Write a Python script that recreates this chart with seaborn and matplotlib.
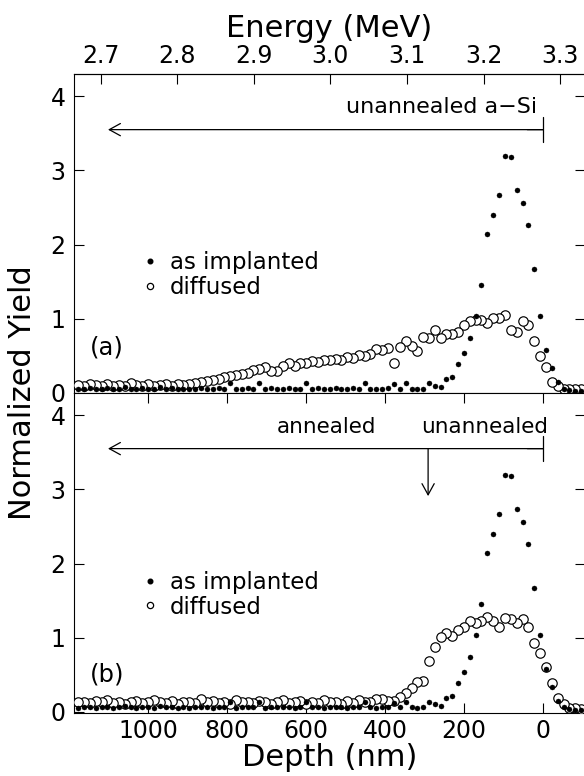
import matplotlib
matplotlib.use("Agg")
import matplotlib.pyplot as plt
import seaborn as sns
import pandas as pd
from matplotlib.lines import Line2D

# ---------------- data ----------------
depth = [-96, -81, -66, -52, -37, -22, -7, 8, 23, 37, 52, 67, 82, 96, 111, 126, 141,
         156, 170, 185, 200, 215, 230, 245, 259, 274, 289, 304, 318, 333, 348, 363,
         378, 392, 407, 422, 437, 451, 466, 481, 496, 511, 525, 540, 555, 570, 585,
         599, 614, 629, 644, 659, 673, 688, 703, 718, 733, 747, 762, 777, 792, 807,
         821, 836, 851, 866, 881, 895, 910, 925, 940, 955, 969, 984, 999, 1014, 1029,
         1043, 1058, 1073, 1088, 1103, 1117, 1132, 1147, 1162, 1177]

as_implanted = [0.03, 0.03, 0.04, 0.06, 0.15, 0.34, 0.58, 1.04,
                1.67, 2.27, 2.56, 2.73, 3.18, 3.19, 2.67, 2.40, 2.14,
                1.46, 1.04, 0.74, 0.54, 0.39, 0.22, 0.19, 0.08,
                0.10, 0.13, 0.06, 0.05, 0.06, 0.13, 0.06, 0.12, 0.07, 0.06,
                0.05, 0.06, 0.13, 0.06, 0.07, 0.05, 0.06, 0.07, 0.06, 0.05,
                0.07, 0.06, 0.13, 0.06, 0.05, 0.07, 0.06, 0.06, 0.07, 0.05,
                0.13, 0.06, 0.07, 0.06, 0.05, 0.13, 0.06, 0.07, 0.05, 0.06,
                0.07, 0.06, 0.05,
                0.06, 0.05, 0.07, 0.06, 0.08, 0.05, 0.06, 0.07, 0.05, 0.06,
                0.08, 0.06, 0.05, 0.07, 0.06, 0.05, 0.07, 0.06, 0.05]

diffused_a = [0.05, 0.05, 0.06, 0.05, 0.09, 0.15, 0.35, 0.50,
              0.70, 0.91, 0.97, 0.82, 0.85, 1.05, 1.01, 1.01, 0.94, 0.98,
              0.99, 0.97, 0.92, 0.82, 0.79, 0.80, 0.74, 0.85, 0.74, 0.76,
              0.57, 0.63, 0.70, 0.62, 0.41, 0.61, 0.58,
              0.59, 0.53, 0.50, 0.51, 0.47, 0.48, 0.45, 0.46, 0.44, 0.45,
              0.42, 0.43, 0.41, 0.40, 0.37, 0.41, 0.36, 0.30, 0.29, 0.35,
              0.32, 0.31, 0.27, 0.26, 0.24, 0.23, 0.21, 0.19, 0.18, 0.16,
              0.15, 0.13, 0.12,
              0.11, 0.12, 0.10, 0.12, 0.11, 0.09, 0.12, 0.10, 0.11, 0.13,
              0.10, 0.11, 0.09, 0.12, 0.10, 0.11, 0.12, 0.10, 0.11]

diffused_b = [0.04, 0.05, 0.05, 0.10, 0.19, 0.39, 0.61, 0.79,
              0.93, 1.14, 1.25, 1.20, 1.25, 1.26, 1.14, 1.22, 1.28, 1.22,
              1.20, 1.23, 1.14, 1.10, 1.02, 1.07, 1.01, 0.88, 0.68, 0.41,
              0.40, 0.32, 0.26, 0.20, 0.15, 0.15, 0.17, 0.18, 0.14,
              0.13, 0.16, 0.12, 0.15, 0.11, 0.14, 0.13, 0.16, 0.12, 0.14,
              0.11, 0.15, 0.13, 0.12, 0.16, 0.14, 0.11, 0.13, 0.15, 0.12,
              0.14, 0.13, 0.16, 0.11, 0.14, 0.12, 0.15, 0.13, 0.17, 0.12,
              0.14, 0.13, 0.11, 0.15, 0.12, 0.14, 0.16, 0.13, 0.12, 0.15,
              0.13, 0.11, 0.14, 0.12, 0.16, 0.13, 0.15, 0.12, 0.14, 0.13]

depth_ticks = [1000, 800, 600, 400, 200, 0]
yield_ticks = [0, 1, 2, 3, 4]
energy_ticks = [2.7, 2.8, 2.9, 3.0, 3.1, 3.2, 3.3]
energy_labels = ["2.7", "2.8", "2.9", "3.0", "3.1", "3.2", "3.3"]
series_labels = ["as implanted", "diffused"]

assert len(depth) == len(as_implanted) == len(diffused_a) == len(diffused_b)

E_SURF, K_E = 3.2777, 0.000516
def d2e(d):
    return E_SURF - K_E * d
def e2d(e):
    return (E_SURF - e) / K_E

# ---------------- style ----------------
sns.set_theme(style="ticks")
plt.rcParams["font.family"] = ["DejaVu Sans"]
plt.rcParams.update({"axes.edgecolor": "black", "text.color": "black",
                     "axes.labelcolor": "black", "xtick.color": "black",
                     "ytick.color": "black", "axes.linewidth": 0.8})

W, H = 584, 776
fig = plt.figure(figsize=(W / 100, H / 100), dpi=100)
left_px, right_px = 74, 585
top_px, mid_px, bot_px = 74, 393, 713
ax_a = fig.add_axes([left_px / W, 1 - mid_px / H, (right_px - left_px) / W, (mid_px - top_px) / H])
ax_b = fig.add_axes([left_px / W, 1 - bot_px / H, (right_px - left_px) / W, (bot_px - mid_px) / H])

df = pd.DataFrame({"depth": depth, "as_implanted": as_implanted,
                   "diffused_a": diffused_a, "diffused_b": diffused_b})

for ax, dcol in ((ax_a, "diffused_a"), (ax_b, "diffused_b")):
    sns.scatterplot(data=df, x="depth", y=dcol, ax=ax, marker="o", s=46,
                    color="white", edgecolor="black", linewidth=0.85, zorder=3)
    sns.scatterplot(data=df, x="depth", y="as_implanted", ax=ax, marker="o", s=13,
                    color="black", edgecolor="black", linewidth=0.3, zorder=4)
    ax.set_xlim(1187, -106)
    ax.set_xticks(depth_ticks)
    ax.set_yticks(yield_ticks)
    ax.set_xlabel("")
    ax.set_ylabel("")
    ax.tick_params(axis="both", direction="in", length=7, width=0.8, labelsize=17)
    ax.tick_params(axis="y", right=True, pad=6)
    handles = [Line2D([], [], ls="", marker="o", ms=3.3, mfc="black", mec="black"),
               Line2D([], [], ls="", marker="o", ms=4.5, mfc="white", mec="black", mew=0.9)]
    ax.legend(handles, series_labels, loc="center left", bbox_to_anchor=(0.138, 0.37),
              frameon=False, fontsize=16.5, handlelength=0.5, handletextpad=0.6,
              labelspacing=0.08, borderpad=0, borderaxespad=0)

ax_a.set_ylim(0, 4.3)
ax_b.set_ylim(-0.015, 4.3)
ax_a.tick_params(axis="x", bottom=False, labelbottom=False)
ax_b.tick_params(axis="x", top=True, bottom=True, labelbottom=True, pad=4)

# energy scale on top
sec = ax_a.secondary_xaxis("top", functions=(d2e, e2d))
sec.set_xticks(energy_ticks)
sec.set_xticklabels(energy_labels)
sec.tick_params(axis="x", direction="in", length=7, width=0.8, labelsize=17, pad=4)
sec.set_xlabel("Energy (MeV)", fontsize=22, labelpad=5)

ax_b.set_xlabel("Depth (nm)", fontsize=22, labelpad=0)
fig.text(23 / W, 1 - mid_px / H, "Normalized Yield", rotation=90, fontsize=22,
         ha="center", va="center")

# annotations
ax_a.text(1104, 0.62, "(a)", fontsize=17.5, ha="center", va="center")
ax_b.text(1104, 0.50, "(b)", fontsize=17.5, ha="center", va="center")

for ax in (ax_a, ax_b):
    ax.annotate("", xy=(0, 3.55), xytext=(1101, 3.55),
                arrowprops=dict(arrowstyle="<-,head_length=0.4,head_width=0.22",
                                mutation_scale=20, lw=0.9, color="black",
                                shrinkA=0, shrinkB=0))
    ax.annotate("", xy=(0, 3.55), xytext=(40, 3.55),
                arrowprops=dict(arrowstyle="-[,widthB=0.45,lengthB=0",
                                mutation_scale=20, lw=0.9, color="black",
                                shrinkA=0, shrinkB=0))

ax_a.text(15, 3.85, "unannealed a\u2212Si", fontsize=16, ha="right", va="center")
ax_b.text(549, 3.84, "annealed", fontsize=15.5, ha="center", va="center")
ax_b.text(147, 3.84, "unannealed", fontsize=15.5, ha="center", va="center")
ax_b.annotate("", xy=(291, 2.91), xytext=(291, 3.55),
              arrowprops=dict(arrowstyle="->,head_length=0.4,head_width=0.22",
                              mutation_scale=20, lw=0.9, color="black",
                              shrinkA=0, shrinkB=0))

fig.savefig("out.png", dpi=100)
